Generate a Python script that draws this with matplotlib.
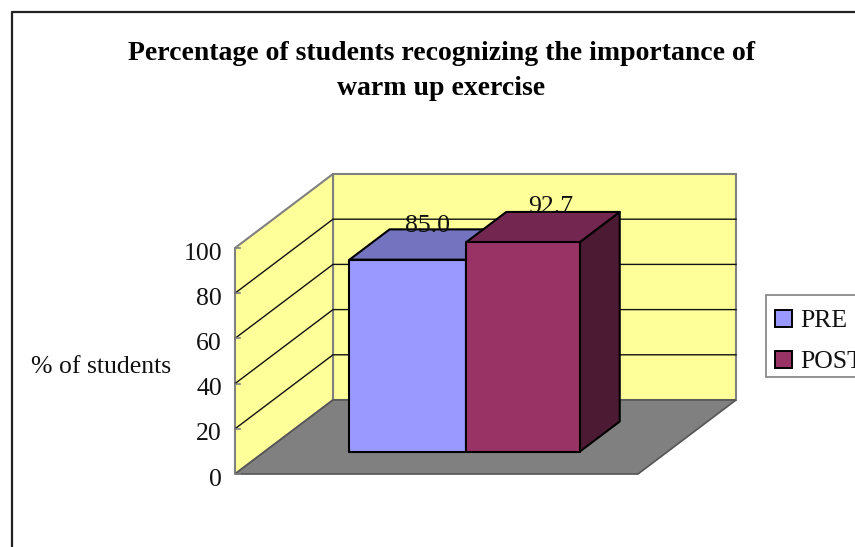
# -*- coding: utf-8 -*-
"""PRE/POST bars with a hand-built 3D box look (oblique projection on a pixel axes)."""
import matplotlib; matplotlib.use("Agg")
import matplotlib.pyplot as plt
from matplotlib.patches import Polygon, Rectangle

TITLE = "Percentage of students recognizing the importance of\nwarm up exercise"
YLABEL = "% of students"
SERIES = ["PRE", "POST"]
VALUES = [85.0, 92.7]
TICKS = [0, 20, 40, 60, 80, 100]

YEL = "#FFFF99"; FLOOR = "#808080"; EDGE = "#808080"
FRONT = ["#9999FF", "#993366"]
TOP = ["#7373BF", "#732650"]
SIDE = ["#4D4D80", "#4C1A33"]

# oblique projection: x 0-1 across, v 0-100 up, d 0-1 into the page
X0, Y0 = 235, 474
W, H = 403, 226
DX, DY = 98, -74
def pj(x, v, d=0.0):
    return (X0 + x*W + d*DX, Y0 - v/100*H + d*DY)

fig = plt.figure(figsize=(8.55, 5.47), dpi=100)
ax = fig.add_axes([0, 0, 1, 1])
ax.set_xlim(0, 855); ax.set_ylim(547, 0); ax.axis("off")
plt.rcParams["font.family"] = "Liberation Serif"

# outer frame, runs off the right and bottom
ax.plot([12, 12, 860], [552, 11.5, 11.5], color="#222222", lw=1.6, zorder=1)

# walls and floor
ax.add_patch(Polygon([pj(0,0,1), pj(1,0,1), pj(1,100,1), pj(0,100,1)], fc=YEL, ec=EDGE, lw=1.5, zorder=2))
ax.add_patch(Polygon([pj(0,0,0), pj(0,0,1), pj(0,100,1), pj(0,100,0)], fc=YEL, ec=EDGE, lw=1.5, zorder=2))
ax.add_patch(Polygon([pj(0,0,0), pj(1,0,0), pj(1,0,1), pj(0,0,1)], fc=FLOOR, ec="#555555", lw=1.2, zorder=2))

for t in TICKS:
    if 0 < t < 100:
        a, b, c = pj(0,t,0), pj(0,t,1), pj(1,t,1)
        ax.plot([a[0], b[0], c[0]], [a[1], b[1], c[1]], color="#111111", lw=1, zorder=3)
    p = pj(0,t,0)
    ax.plot([p[0], p[0]+5], [p[1], p[1]], color=EDGE, lw=1.2, zorder=3)
    ax.text(p[0]-13, p[1]+5.5, str(t), ha="right", va="center", fontsize=18.5, color="#111111")

# bars, left to right so POST covers the side of PRE
BAR_EDGES = [0.211, 0.5005, 0.782]
D0 = 0.30; D1 = 0.71
LABEL_NUDGE = [0, 8]
LABEL_RISE = [19, 20]
for i, v in enumerate(VALUES):
    l, r = BAR_EDGES[i], BAR_EDGES[i+1]
    kw = dict(ec="black", lw=1.5, joinstyle="round", zorder=4+i)
    ax.add_patch(Polygon([pj(r,0,D0), pj(r,0,D1), pj(r,v,D1), pj(r,v,D0)], fc=SIDE[i], **kw))
    ax.add_patch(Polygon([pj(l,v,D0), pj(r,v,D0), pj(r,v,D1), pj(l,v,D1)], fc=TOP[i], **kw))
    ax.add_patch(Polygon([pj(l,0,D0), pj(r,0,D0), pj(r,v,D0), pj(l,v,D0)], fc=FRONT[i], **kw))
    c = pj((l+r)/2, v, (D0+D1)/2)
    ax.text(c[0]+LABEL_NUDGE[i], c[1]-LABEL_RISE[i], f"{v:.1f}", ha="center", va="center", fontsize=18.5, color="#111111", zorder=8)

ax.text(101, 367, YLABEL, ha="center", va="center", fontsize=18.5, color="#111111")
ax.text(441, 71, TITLE, ha="center", va="center", fontsize=20, fontweight="bold", color="black", linespacing=1.55)

# legend box, clipped by the figure edge
ax.add_patch(Rectangle((766, 295), 100, 82, fc="white", ec="#808080", lw=1.2, zorder=3))
for i, s in enumerate(SERIES):
    y = 310 + i*41
    ax.add_patch(Rectangle((775, y), 17, 17, fc=FRONT[i], ec="black", lw=1.4, zorder=4))
    ax.text(800, y+11, s, ha="left", va="center", fontsize=18.5, color="#111111", zorder=4)

fig.savefig("out.png", dpi=100)
